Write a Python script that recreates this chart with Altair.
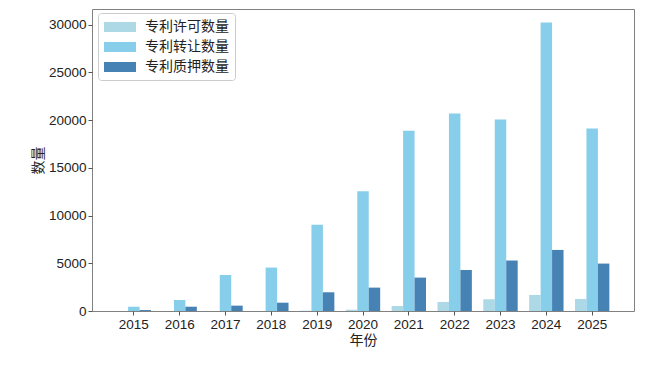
import altair as alt
import pandas as pd

years = [str(y) for y in range(2015, 2026)]
licensing = [0, 0, 0, 0, 30, 120, 520, 940, 1230, 1680, 1260]
transfer = [450, 1150, 3780, 4550, 9040, 12540, 18900, 20700, 20070, 30230, 19120]
pledge = [100, 450, 560, 870, 1960, 2450, 3500, 4300, 5290, 6400, 4970]
series = ["专利许可数量", "专利转让数量", "专利质押数量"]
colors = ["#ADD8E6", "#87CEEB", "#4682B4"]
y_ticks = [0, 5000, 10000, 15000, 20000, 25000, 30000]

rows = []
for i, yr in enumerate(years):
    for s, vals in zip(series, [licensing, transfer, pledge]):
        rows.append({"年份": yr, "类型": s, "数量": vals[i]})
df = pd.DataFrame(rows)

font = "Liberation Sans, Noto Sans CJK SC"

chart = alt.Chart(df).mark_bar().encode(
    x=alt.X("年份:N", sort=years,
            scale=alt.Scale(paddingInner=0.25, paddingOuter=0.5375),
            axis=alt.Axis(title="年份", labelAngle=0, domain=False, tickSize=4,
                          labelPadding=2, titlePadding=3)),
    xOffset=alt.XOffset("类型:N", sort=series,
                        scale=alt.Scale(paddingInner=0, paddingOuter=0)),
    y=alt.Y("数量:Q", scale=alt.Scale(domain=[0, 31650], nice=False),
            axis=alt.Axis(title="数量", values=y_ticks, format="d", grid=False,
                          domain=False, tickSize=4, labelPadding=2, titlePadding=3)),
    color=alt.Color("类型:N", sort=series,
                    scale=alt.Scale(domain=series, range=colors),
                    legend=alt.Legend(title=None, orient="none", legendX=6, legendY=4,
                                      padding=6, strokeColor="#cccccc", cornerRadius=3,
                                      fillColor="white",
                                      symbolType="M-1,-0.625H3V0.625H-1Z",
                                      symbolSize=256, symbolStrokeWidth=0,
                                      symbolOpacity=1,
                                      labelFontSize=14, labelOffset=25,
                                      rowPadding=5, labelFont=font,
                                      labelColor="#222222")),
).properties(
    width=542, height=302,
    padding={"left": 84, "top": 1, "right": 23, "bottom": 49},
    autosize="none",
).configure_view(
    stroke="#808080", strokeWidth=1
).configure_axis(
    labelFont=font, titleFont=font, labelFontSize=13.5, titleFontSize=14,
    titleFontWeight="normal", labelColor="#222222", titleColor="#222222",
    tickColor="#555555"
)

chart.save("out.html", embed_options={"renderer": "svg", "actions": False})
